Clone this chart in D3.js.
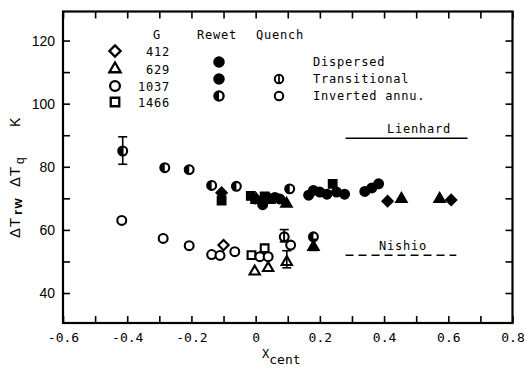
<!DOCTYPE html>
<html>
<head>
<meta charset="utf-8">
<script src="https://cdn.jsdelivr.net/npm/d3@7"></script>
<style>
  html, body { margin: 0; padding: 0; background: #fff; }
  svg { display: block; }
</style>
</head>
<body>
<svg id="chart" width="524" height="371"></svg>
<script>
// ---- data -------------------------------------------------------------
const G_VALUES = [412, 629, 1037, 1466];
const REGIMES = ["Dispersed", "Transitional", "Inverted annu."];

const X_TICKS = [-0.6, -0.5, -0.4, -0.3, -0.2, -0.1, 0, 0.1, 0.2, 0.3, 0.4, 0.5, 0.6, 0.7, 0.8];
const X_LABELS = ["-0.6", "-0.4", "-0.2", "0", "0.2", "0.4", "0.6", "0.8"];
const Y_TICKS = [40, 50, 60, 70, 80, 90, 100, 110, 120];
const Y_LABELS = ["40", "60", "80", "100", "120"];

// rewetting temperature ΔT_rw (upper branch) : x_cent, K, mass flux G, regime
const rewetPoints = [
  { x: -0.414, y: 85.0, g: 1037, regime: "Inverted annu." },
  { x: -0.283, y: 79.7, g: 1037, regime: "Inverted annu." },
  { x: -0.207, y: 79.1, g: 1037, regime: "Inverted annu." },
  { x: -0.137, y: 74.1, g: 1037, regime: "Inverted annu." },
  { x: -0.106, y: 71.8, g: 412,  regime: "Transitional" },
  { x: -0.106, y: 69.3, g: 1466, regime: "Transitional" },
  { x: -0.060, y: 73.8, g: 1037, regime: "Inverted annu." },
  { x: -0.015, y: 70.8, g: 1466, regime: "Transitional" },
  { x: -0.002, y: 69.8, g: 1037, regime: "Transitional" },
  { x:  0.003, y: 69.5, g: 629,  regime: "Transitional" },
  { x:  0.022, y: 68.0, g: 1037, regime: "Transitional" },
  { x:  0.028, y: 70.6, g: 1466, regime: "Transitional" },
  { x:  0.040, y: 70.0, g: 1037, regime: "Transitional" },
  { x:  0.042, y: 69.5, g: 629,  regime: "Transitional" },
  { x:  0.060, y: 70.3, g: 1037, regime: "Transitional" },
  { x:  0.075, y: 69.8, g: 1037, regime: "Transitional" },
  { x:  0.096, y: 68.3, g: 629,  regime: "Transitional" },
  { x:  0.106, y: 73.0, g: 1037, regime: "Inverted annu." },
  { x:  0.165, y: 71.0, g: 1037, regime: "Transitional" },
  { x:  0.180, y: 72.5, g: 1037, regime: "Transitional" },
  { x:  0.200, y: 72.0, g: 1037, regime: "Transitional" },
  { x:  0.222, y: 71.3, g: 1037, regime: "Dispersed" },
  { x:  0.240, y: 74.6, g: 1466, regime: "Dispersed" },
  { x:  0.252, y: 72.0, g: 1037, regime: "Dispersed" },
  { x:  0.277, y: 71.3, g: 1037, regime: "Dispersed" },
  { x:  0.340, y: 72.2, g: 1037, regime: "Dispersed" },
  { x:  0.362, y: 73.3, g: 1037, regime: "Dispersed" },
  { x:  0.383, y: 74.6, g: 1037, regime: "Dispersed" },
  { x:  0.411, y: 69.1, g: 412,  regime: "Dispersed" },
  { x:  0.454, y: 69.8, g: 629,  regime: "Dispersed" },
  { x:  0.573, y: 69.8, g: 629,  regime: "Dispersed" },
  { x:  0.609, y: 69.5, g: 412,  regime: "Dispersed" },
  { x:  0.180, y: 57.8, g: 1037, regime: "Inverted annu." },
  { x:  0.180, y: 54.6, g: 629,  regime: "Transitional" }
];

// quench temperature ΔT_q (lower branch)
const quenchPoints = [
  { x: -0.417, y: 63.0, g: 1037, regime: "Inverted annu." },
  { x: -0.288, y: 57.3, g: 1037, regime: "Inverted annu." },
  { x: -0.207, y: 55.0, g: 1037, regime: "Inverted annu." },
  { x: -0.137, y: 52.2, g: 1037, regime: "Inverted annu." },
  { x: -0.111, y: 51.9, g: 1037, regime: "Inverted annu." },
  { x: -0.100, y: 55.2, g: 412,  regime: "Inverted annu." },
  { x: -0.065, y: 53.1, g: 1037, regime: "Inverted annu." },
  { x: -0.013, y: 52.0, g: 1466, regime: "Inverted annu." },
  { x:  0.013, y: 51.5, g: 1037, regime: "Inverted annu." },
  { x:  0.028, y: 54.2, g: 1466, regime: "Inverted annu." },
  { x:  0.039, y: 51.5, g: 1037, regime: "Inverted annu." },
  { x: -0.003, y: 46.8, g: 629,  regime: "Inverted annu." },
  { x:  0.039, y: 47.9, g: 629,  regime: "Inverted annu." },
  { x:  0.089, y: 57.8, g: 1037, regime: "Transitional" },
  { x:  0.109, y: 55.2, g: 1037, regime: "Inverted annu." },
  { x:  0.097, y: 49.8, g: 629,  regime: "Inverted annu." }
];

// scatter bands: x_cent, lower K, upper K
const errorBars = [
  { x: -0.414, lo: 80.8, hi: 89.5 },
  { x:  0.089, lo: 56.2, hi: 60.1 },
  { x:  0.097, lo: 48.0, hi: 53.4 },
  { x:  0.180, lo: 53.5, hi: 57.0 }
];

// correlation levels
const correlations = [
  { name: "Lienhard", x0: 0.28, x1: 0.66,  y: 89, dashed: false },
  { name: "Nishio",   x0: 0.28, x1: 0.625, y: 52, dashed: true }
];

// ---- layout -----------------------------------------------------------
const svg = d3.select("#chart");
const MONO = "'DejaVu Sans Mono', monospace";
const SANS = "'Liberation Sans', Arial, sans-serif";

const x = d3.scaleLinear([-0.6, 0.8], [63, 512.5]);
const y = d3.scaleLinear([30.5, 129.2], [323, 11.5]);

const shapeOf = d3.scaleOrdinal(G_VALUES, ["diamond", "triangle", "circle", "square"]);
// rewet: dispersed / transitional solid, inverted annular half-filled
// quench: transitional crossed, inverted annular open
const rewetStyle = d3.scaleOrdinal(REGIMES, ["filled", "filled", "half"]);
const quenchStyle = d3.scaleOrdinal(REGIMES, ["filled", "phi", "open"]);

// ---- frame and ticks --------------------------------------------------
const fmtX = v => X_LABELS.find(l => Math.abs(+l - v) < 1e-6) || "";
const fmtY = v => Y_LABELS.find(l => +l === v) || "";

function styleAxis(g) {
  g.select(".domain").remove();
  g.selectAll(".tick line").attr("stroke", "#000").attr("stroke-width", 1.6);
}

svg.append("g").attr("transform", "translate(0,323)")
  .call(d3.axisBottom(x).tickValues(X_TICKS).tickSize(-7).tickPadding(10).tickFormat(fmtX))
  .call(styleAxis)
  .call(g => g.selectAll("text").attr("font-family", MONO).attr("font-size", 13).attr("fill", "#000"));

svg.append("g").attr("transform", "translate(0,11.5)")
  .call(d3.axisTop(x).tickValues(X_TICKS).tickSize(-7).tickFormat(""))
  .call(styleAxis);

svg.append("g").attr("transform", "translate(63,0)")
  .call(d3.axisLeft(y).tickValues(Y_TICKS).tickSize(-7).tickPadding(8).tickFormat(fmtY))
  .call(styleAxis)
  .call(g => g.selectAll("text").attr("font-family", SANS).attr("font-size", 14).attr("fill", "#000"));

svg.append("g").attr("transform", "translate(512.5,0)")
  .call(d3.axisRight(y).tickValues(Y_TICKS).tickSize(-7).tickFormat(""))
  .call(styleAxis);

svg.append("rect")
  .attr("x", x(-0.6)).attr("y", y(129.2))
  .attr("width", x(0.8) - x(-0.6)).attr("height", y(30.5) - y(129.2))
  .attr("fill", "none").attr("stroke", "#000").attr("stroke-width", 2.2);

// ---- axis titles ------------------------------------------------------
const xt = svg.append("text").attr("x", 262).attr("y", 358)
  .attr("font-family", MONO).attr("fill", "#000");
xt.append("tspan").attr("font-size", 12).text("X");
xt.append("tspan").attr("font-size", 13).attr("dy", 6).text("cent");

function rotText(px, py, size, str) {
  return svg.append("text")
    .attr("transform", `translate(${px},${py}) rotate(-90)`)
    .attr("font-family", SANS).attr("font-size", size).attr("fill", "#000")
    .text(str);
}
rotText(19.5, 238, 15, "ΔT").attr("letter-spacing", 1);
rotText(22, 215, 13, "rw").attr("letter-spacing", 1.5).attr("font-weight", "bold");
rotText(19.5, 187, 15, "ΔT").attr("letter-spacing", 1);
rotText(24, 164, 12, "q");
rotText(19.5, 127, 14, "K");

// ---- markers ----------------------------------------------------------
const SYMBOL = {
  diamond: d3.symbol(d3.symbolSquare, 52),
  triangle: d3.symbol(d3.symbolTriangle, 46),
  circle: d3.symbol(d3.symbolCircle, 62),
  square: d3.symbol(d3.symbolSquare, 60)
};
const R = Math.sqrt(62 / Math.PI);
const halfArc = d3.arc().innerRadius(0).outerRadius(R).startAngle(Math.PI).endAngle(2 * Math.PI);

function marker(g, shape, style, cx, cy, scale = 1) {
  const m = g.append("g").attr("transform", `translate(${cx},${cy}) scale(${scale})`);
  const rot = shape === "diamond" ? "rotate(45)" : null;
  const solid = style === "filled";
  m.append("path").attr("d", SYMBOL[shape]()).attr("transform", rot)
    .attr("fill", solid ? "#000" : "#fff")
    .attr("stroke", "#000").attr("stroke-width", 2.1);
  if (style === "half") {
    m.append("path").attr("d", halfArc()).attr("fill", "#000");
  }
  if (style === "phi") {
    m.append("line").attr("x1", 0).attr("x2", 0).attr("y1", -R).attr("y2", R)
      .attr("stroke", "#000").attr("stroke-width", 1.8);
  }
}

const marks = svg.append("g");
quenchPoints.forEach(d => marker(marks, shapeOf(d.g), quenchStyle(d.regime), x(d.x), y(d.y)));
rewetPoints.forEach(d => marker(marks, shapeOf(d.g), rewetStyle(d.regime), x(d.x), y(d.y)));

const bars = svg.append("g").attr("stroke", "#000").attr("stroke-width", 1.6);
errorBars.forEach(d => {
  bars.append("line").attr("x1", x(d.x)).attr("x2", x(d.x)).attr("y1", y(d.lo)).attr("y2", y(d.hi));
  [d.lo, d.hi].forEach(v => bars.append("line")
    .attr("x1", x(d.x) - 4.5).attr("x2", x(d.x) + 4.5).attr("y1", y(v)).attr("y2", y(v)));
});

// ---- correlation lines ------------------------------------------------
correlations.forEach(c => {
  svg.append("line")
    .attr("x1", x(c.x0)).attr("x2", x(c.x1)).attr("y1", y(c.y)).attr("y2", y(c.y))
    .attr("stroke", "#000").attr("stroke-width", 1.5)
    .attr("stroke-dasharray", c.dashed ? "8,5" : null);
});
svg.append("text").attr("x", 419).attr("y", y(89) - 5)
  .attr("text-anchor", "middle").attr("font-family", MONO).attr("font-size", 12)
  .attr("letter-spacing", 0.8).attr("fill", "#000").text(correlations[0].name);
svg.append("text").attr("x", 403).attr("y", y(52) - 5)
  .attr("text-anchor", "middle").attr("font-family", MONO).attr("font-size", 12)
  .attr("letter-spacing", 0.8).attr("fill", "#000").text(correlations[1].name);

// ---- legend -----------------------------------------------------------
const leg = svg.append("g").attr("font-family", MONO).attr("font-size", 12)
  .attr("letter-spacing", 0.8).attr("fill", "#000");
leg.append("text").attr("x", 157).attr("y", 39).attr("text-anchor", "middle").text("G");
leg.append("text").attr("x", 217).attr("y", 39).attr("text-anchor", "middle").text("Rewet");
leg.append("text").attr("x", 280).attr("y", 39).attr("text-anchor", "middle").text("Quench");

const gRows = [51, 69, 86, 102];
G_VALUES.forEach((gv, i) => {
  marker(leg, shapeOf(gv), "open", 115, gRows[i], 1.1);
  leg.append("text").attr("x", 170).attr("y", gRows[i] + 4.5).attr("text-anchor", "end").text(gv);
});

const rRows = [62, 79, 96];
REGIMES.forEach((r, i) => {
  marker(leg, "circle", rewetStyle(r), 219, rRows[i], 1.05);
  if (r !== "Dispersed") marker(leg, "circle", quenchStyle(r), 279, rRows[i], 0.95);
  leg.append("text").attr("x", 313).attr("y", rRows[i] + 4).text(r);
});
</script>
</body>
</html>
